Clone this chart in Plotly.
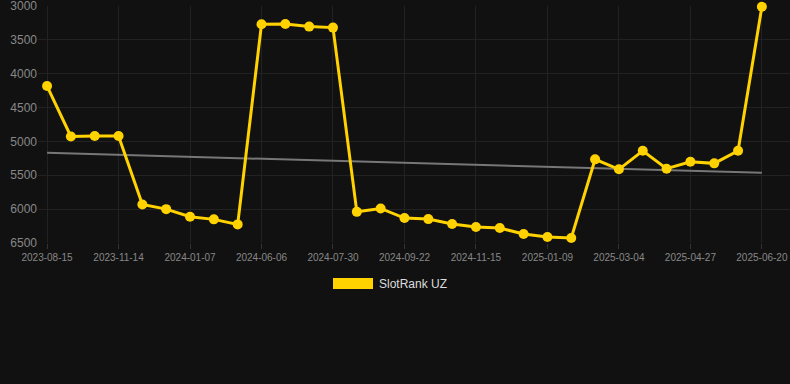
import numpy as np
import plotly.graph_objects as go

ranks = [4182, 4926, 4920, 4920, 5931, 6000, 6113, 6151, 6225,
         3269, 3265, 3304, 3319, 6040, 5990, 6132, 6147, 6220,
         6264, 6279, 6367, 6411, 6426, 5265, 5412, 5138, 5403,
         5300, 5324, 5138, 3010]
tick_labels = ["2023-08-15", "2023-11-14", "2024-01-07", "2024-06-06",
               "2024-07-30", "2024-09-22", "2024-11-15", "2025-01-09",
               "2025-03-04", "2025-04-27", "2025-06-20"]
series_name = "SlotRank UZ"
y_ticks = [3000, 3500, 4000, 4500, 5000, 5500, 6000, 6500]

x = np.arange(len(ranks))
tick_pos = x[::3]
slope, intercept = np.polyfit(x, ranks, 1)
trend = slope * x + intercept

BG = "#111111"
GOLD = "#FFD200"

fig = go.Figure()
fig.add_trace(go.Scatter(x=x, y=trend, mode="lines",
                         line=dict(color="#777777", width=2),
                         hoverinfo="skip", showlegend=False))
fig.add_trace(go.Scatter(x=x, y=ranks, mode="lines+markers",
                         line=dict(color=GOLD, width=3),
                         marker=dict(color=GOLD, size=10),
                         cliponaxis=False, showlegend=False, name=series_name))

fig.add_shape(type="rect", xref="paper", yref="paper",
              x0=(333 - 38) / 752, x1=(373 - 38) / 752,
              y0=-(289 - 243) / 237, y1=-(278 - 243) / 237,
              fillcolor=GOLD, line=dict(width=0))
fig.add_annotation(xref="paper", yref="paper",
                   x=(377 - 38) / 752, y=-(284 - 243) / 237,
                   text=series_name, showarrow=False, xanchor="left", yanchor="middle",
                   font=dict(color="#dddddd", size=12, family="Liberation Sans, Arial, sans-serif"))

fig.update_layout(
    width=790, height=384,
    margin=dict(l=38, r=0, t=6, b=141),
    paper_bgcolor=BG, plot_bgcolor=BG,
    font=dict(family="Liberation Sans, Arial, sans-serif", color="#888888"),
    showlegend=False,
)
fig.update_xaxes(range=[-0.38, 31.18], tickvals=tick_pos, ticktext=tick_labels,
                 showgrid=True, gridcolor="#222222", gridwidth=1,
                 zeroline=False, showline=False,
                 ticks="outside", ticklen=5, tickcolor="#333333",
                 ticklabeloverflow="allow",
                 tickfont=dict(size=10, color="#888888"))
fig.update_yaxes(range=[6500, 3000], tickvals=y_ticks,
                 showgrid=True, gridcolor="#222222", gridwidth=1,
                 zeroline=False, showline=False,
                 ticklabeloverflow="allow",
                 tickfont=dict(size=12, color="#888888"))

fig.write_html("out.html")
